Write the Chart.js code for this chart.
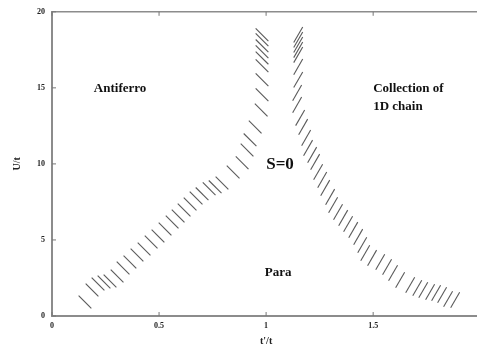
<!DOCTYPE html>
<html>
<head>
<meta charset="utf-8">
<script src="https://cdn.jsdelivr.net/npm/chart.js@4.4.0/dist/chart.umd.min.js"></script>
<style>
    body { margin: 0; background: #fff; }
    #wrap { width: 477px; height: 348px; position: relative; }
</style>
</head>
<body>
<div id="wrap"><canvas id="phaseChart"></canvas></div>
<script>
// Boundary hatching, antiferro / S=0 (t'/t, U/t)
const leftX = [0.154, 0.187, 0.215, 0.243, 0.271, 0.304, 0.332, 0.364, 0.397, 0.430, 0.463, 0.495,
    0.528, 0.561, 0.589, 0.617, 0.645, 0.673, 0.701, 0.734, 0.762, 0.794, 0.846, 0.888, 0.911,
    0.925, 0.949, 0.977, 0.981, 0.981, 0.981, 0.981, 0.981, 0.981, 0.981, 0.981];
const leftY = [0.92, 1.71, 2.11, 2.24, 2.30, 2.63, 3.16, 3.55, 4.01, 4.41, 4.87, 5.26,
    5.72, 6.18, 6.58, 6.97, 7.37, 7.76, 8.03, 8.36, 8.49, 8.75, 9.47, 10.07, 10.92,
    11.58, 12.43, 13.55, 14.54, 15.53, 16.45, 16.97, 17.37, 17.76, 18.16, 18.49];

// Boundary hatching, S=0 / collection of 1D chain
const rightX = [1.150, 1.150, 1.150, 1.150, 1.150, 1.150, 1.150, 1.145, 1.145, 1.159, 1.173, 1.187,
    1.196, 1.215, 1.229, 1.243, 1.262, 1.276, 1.299, 1.313, 1.336, 1.360, 1.383, 1.407, 1.430,
    1.449, 1.463, 1.495, 1.533, 1.565, 1.593, 1.626, 1.673, 1.706, 1.734, 1.766, 1.794, 1.822,
    1.850, 1.883];
const rightY = [18.49, 18.16, 17.83, 17.50, 17.17, 16.38, 15.53, 14.67, 13.88, 13.03, 12.43, 11.71,
    11.05, 10.59, 10.13, 9.47, 8.95, 8.42, 7.83, 7.30, 6.84, 6.45, 6.05, 5.66, 5.20,
    4.67, 4.14, 3.82, 3.55, 3.22, 2.83, 2.37, 2.04, 1.84, 1.71, 1.58, 1.51, 1.38,
    1.12, 1.05];

const xTicks = [0, 0.5, 1, 1.5];
const yTicks = [0, 5, 10, 15, 20];
const xTickLabels = ['0', '0.5', '1', '1.5'];
const yTickLabels = ['0', '5', '10', '15', '20'];

// Region names, placed in data coordinates
const regionText = ['Antiferro', 'Collection of', '1D chain', 'S=0', 'Para'];
const regionX = [0.318, 1.50, 1.50, 1.065, 1.056];
const regionY = [14.95, 14.95, 13.77, 9.97, 2.87];

const toPoints = (xs, ys) => xs.map((x, i) => ({ x: x, y: ys[i] }));

const frameAndText = {
    id: 'frameAndText',
    afterDraw(chart) {
        const { ctx, chartArea: a, scales: { x, y } } = chart;
        ctx.save();
        // top frame line
        ctx.strokeStyle = '#8c8c8c';
        ctx.lineWidth = 1.5;
        ctx.beginPath();
        ctx.moveTo(a.left, a.top);
        ctx.lineTo(a.right, a.top);
        ctx.stroke();

        // inward ticks
        ctx.lineWidth = 1;
        ctx.strokeStyle = '#777';
        ctx.beginPath();
        xTicks.forEach(v => {
            const px = x.getPixelForValue(v);
            ctx.moveTo(px, a.bottom);
            ctx.lineTo(px, a.bottom - 4);
            ctx.moveTo(px, a.top);
            ctx.lineTo(px, a.top + 4);
        });
        yTicks.forEach(v => {
            const py = y.getPixelForValue(v);
            ctx.moveTo(a.left, py);
            ctx.lineTo(a.left + 4, py);
        });
        ctx.stroke();

        // region names
        ctx.fillStyle = '#111';
        ctx.textBaseline = 'middle';
        regionText.forEach((t, i) => {
            const big = t === 'S=0';
            ctx.font = 'bold ' + (big ? 17 : 13) + 'px "Liberation Serif", serif';
            ctx.textAlign = (t === 'Collection of' || t === '1D chain') ? 'left' : 'center';
            ctx.fillText(t, x.getPixelForValue(regionX[i]), y.getPixelForValue(regionY[i]));
        });

        // axis titles
        ctx.font = 'bold 10px "Liberation Serif", serif';
        ctx.fillStyle = '#222';
        ctx.textAlign = 'center';
        ctx.fillText("t'/t", x.getPixelForValue(1), a.bottom + 25);
        ctx.translate(17, y.getPixelForValue(10));
        ctx.rotate(-Math.PI / 2);
        ctx.fillText('U/t', 0, 0);
        ctx.restore();
    }
};

document.addEventListener('DOMContentLoaded', () => {
    const ctx = document.getElementById('phaseChart').getContext('2d');
    const hatch = {
        showLine: false,
        pointStyle: 'line',
        pointRadius: 9,
        pointBorderColor: '#5a5a5a',
        pointBorderWidth: 1.1
    };

    window.phaseChart = new Chart(ctx, {
        type: 'scatter',
        data: {
            datasets: [
                Object.assign({ label: 'left', data: toPoints(leftX, leftY), pointRotation: 45 }, hatch),
                Object.assign({ label: 'right', data: toPoints(rightX, rightY), pointRotation: -60 }, hatch)
            ]
        },
        options: {
            responsive: true,
            maintainAspectRatio: false,
            animation: false,
            events: [],
            layout: { autoPadding: false, padding: { top: 11, right: 0, left: 0, bottom: 0 } },
            plugins: {
                legend: { display: false },
                tooltip: { enabled: false }
            },
            scales: {
                x: {
                    type: 'linear',
                    min: 0,
                    max: 1.985,
                    grid: { display: false, drawTicks: false },
                    border: { display: true, color: '#8c8c8c', width: 2 },
                    afterBuildTicks: s => { s.ticks = xTicks.map(v => ({ value: v })); },
                    afterFit: s => { s.height = 32; },
                    ticks: {
                        padding: 5,
                        color: '#222',
                        font: { family: '"Liberation Serif", serif', size: 8, weight: 'bold' },
                        callback: (v) => xTickLabels[xTicks.indexOf(v)]
                    }
                },
                y: {
                    min: 0,
                    max: 20,
                    grid: { display: false, drawTicks: false },
                    border: { display: true, color: '#8c8c8c', width: 2 },
                    afterBuildTicks: s => { s.ticks = yTicks.map(v => ({ value: v })); },
                    afterFit: s => { s.width = 52; },
                    ticks: {
                        padding: 7,
                        color: '#222',
                        font: { family: '"Liberation Serif", serif', size: 8, weight: 'bold' },
                        callback: (v) => yTickLabels[yTicks.indexOf(v)]
                    }
                }
            }
        },
        plugins: [frameAndText]
    });
});
</script>
</body>
</html>
